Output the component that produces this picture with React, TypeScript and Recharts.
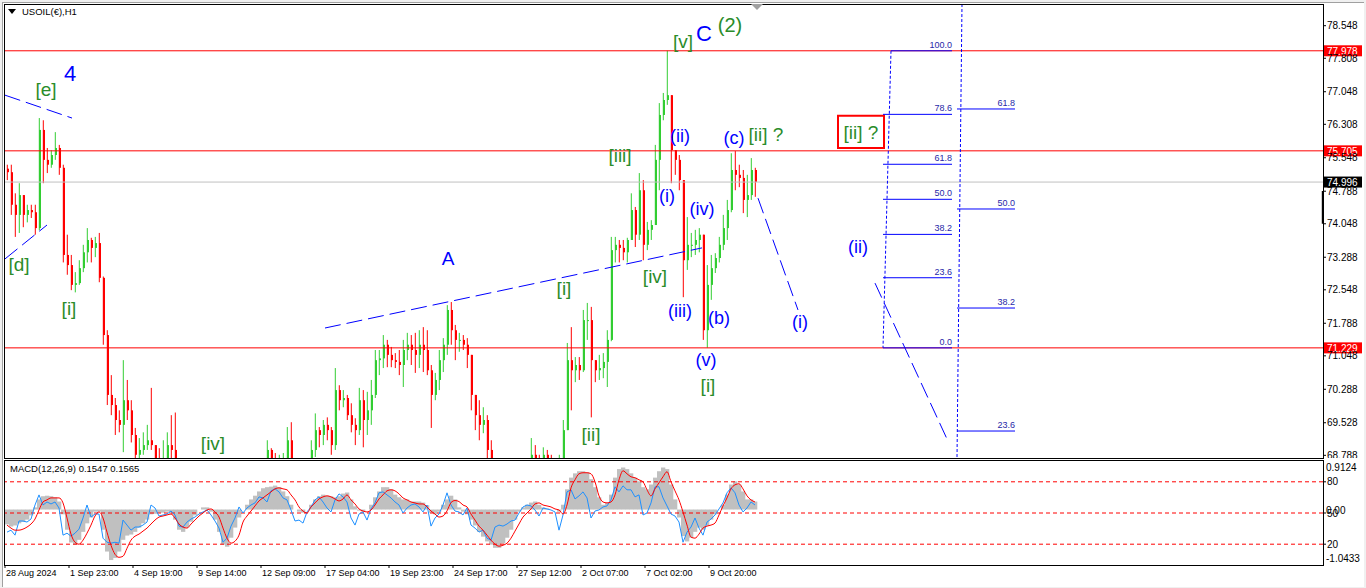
import React from 'react';
import { ComposedChart, Bar, Line, XAxis, YAxis, ReferenceLine, ReferenceDot, ReferenceArea } from 'recharts';

const FONT = '"Liberation Sans", Arial, sans-serif';

// ---------- price data (H1 bars, aggregated) ----------
const firstOpen = 75.3;
const highs = [
  75.39, 75.39, 74.74, 74.97, 74.70, 74.48, 74.48, 74.48, 76.45, 76.40,
  75.77, 75.72, 76.13, 75.84, 75.39, 73.80, 73.34, 72.95, 73.22, 73.57,
  73.95, 73.73, 73.75, 73.84, 72.85, 71.63, 70.61, 70.09, 69.81, 70.95,
  70.50, 70.04, 69.41, 69.18, 69.31, 69.48, 70.32, 69.02, 68.95, 69.13,
  69.31, 69.70, 69.76, 68.63, 68.45, 68.27, 68.40, 68.54, 68.63, 68.66,
  68.61, 68.50, 68.34, 68.22, 68.11, 68.00, 67.89, 67.82, 67.77, 67.89,
  68.04, 68.22, 68.40, 68.57, 68.72, 69.13, 68.95, 68.84, 68.80, 68.84,
  69.43, 69.54, 68.68, 68.63, 68.57, 68.63, 69.13, 69.74, 69.43, 69.59,
  69.65, 69.43, 70.77, 70.38, 70.27, 70.16, 69.97, 69.63, 70.32, 70.27,
  70.23, 70.50, 71.18, 71.18, 71.52, 71.41, 71.25, 71.11, 71.18, 71.41,
  71.57, 71.52, 71.57, 71.63, 71.70, 71.63, 70.84, 70.66, 71.18, 71.45,
  72.20, 72.27, 71.75, 71.57, 71.52, 71.45, 71.07, 70.16, 70.04, 69.88,
  69.70, 69.13, 68.57, 68.34, 68.22, 68.11, 68.22, 68.45, 68.57, 68.45,
  68.57, 69.18, 69.02, 68.80, 68.97, 68.91, 68.80, 68.68, 68.80, 69.59,
  71.34, 71.70, 71.02, 71.02, 72.09, 72.25, 72.16, 70.95, 71.07, 71.11,
  71.63, 73.75, 73.75, 73.68, 73.68, 73.73, 74.74, 74.43, 75.20, 75.04,
  74.09, 74.13, 75.84, 76.79, 77.02, 77.98, 76.97, 75.72, 75.61, 75.04,
  74.20, 73.84, 73.91, 73.95, 73.80, 73.11, 73.34, 73.38, 73.75, 74.25,
  74.59, 75.65, 75.70, 75.39, 75.27, 75.16, 75.54, 75.32,
];
const lows = [
  75.04, 74.25, 73.75, 73.84, 73.97, 74.08, 74.18, 73.80, 73.90, 74.97,
  75.20, 75.32, 75.50, 75.16, 73.17, 72.89, 72.54, 72.49, 72.66, 72.95,
  73.17, 73.17, 73.29, 72.72, 71.30, 69.93, 69.70, 69.25, 69.31, 68.86,
  69.59, 69.08, 68.63, 68.57, 68.80, 68.91, 68.91, 68.45, 68.34, 68.34,
  68.63, 68.57, 68.50, 68.00, 67.77, 67.66, 67.82, 68.00, 68.11, 68.17,
  68.04, 67.89, 67.77, 67.66, 67.54, 67.43, 67.31, 67.20, 67.13, 67.31,
  67.49, 67.66, 67.82, 68.00, 68.17, 68.45, 68.50, 68.45, 68.40, 68.50,
  68.57, 68.45, 68.11, 68.00, 67.89, 68.00, 68.34, 68.75, 68.97, 69.02,
  69.13, 68.80, 68.91, 69.81, 69.88, 69.59, 69.31, 69.02, 69.25, 68.97,
  69.25, 69.48, 70.09, 70.61, 70.77, 70.79, 70.79, 70.77, 70.61, 70.34,
  70.95, 70.84, 70.66, 70.77, 70.68, 70.61, 69.41, 70.04, 70.27, 70.68,
  71.07, 71.30, 70.95, 71.14, 71.18, 70.77, 69.81, 69.36, 69.13, 69.29,
  68.72, 68.22, 67.89, 67.66, 67.54, 67.43, 67.54, 67.77, 67.89, 67.77,
  67.89, 68.30, 68.45, 68.34, 68.45, 68.34, 68.27, 68.22, 68.27, 68.57,
  69.36, 69.81, 70.45, 70.50, 70.68, 71.41, 69.65, 70.45, 70.50, 70.54,
  70.34, 71.38, 73.17, 73.17, 73.22, 73.17, 73.68, 73.52, 73.68, 73.22,
  73.45, 73.68, 74.02, 74.81, 76.40, 76.75, 74.97, 75.16, 74.81, 72.38,
  73.00, 73.29, 73.34, 73.40, 71.41, 71.23, 72.32, 72.93, 73.17, 73.45,
  73.68, 74.31, 74.81, 74.88, 74.29, 74.20, 74.59, 74.66,
];
const closes = [
  75.22, 74.48, 74.25, 74.70, 74.25, 74.36, 74.31, 73.95, 76.18, 75.50,
  75.39, 75.61, 75.77, 75.32, 73.34, 73.11, 72.66, 72.70, 73.04, 73.40,
  73.68, 73.50, 73.61, 72.82, 71.52, 70.16, 69.93, 69.59, 69.48, 70.04,
  69.81, 69.25, 68.80, 68.91, 69.02, 69.13, 69.02, 68.63, 68.50, 68.68,
  69.02, 68.91, 68.57, 68.22, 68.00, 68.11, 68.27, 68.40, 68.50, 68.45,
  68.34, 68.11, 68.00, 67.89, 67.77, 67.66, 67.54, 67.43, 67.54, 67.66,
  67.89, 68.04, 68.22, 68.45, 68.57, 68.91, 68.68, 68.63, 68.68, 68.72,
  69.13, 68.63, 68.34, 68.22, 68.11, 68.45, 68.91, 69.36, 69.25, 69.48,
  69.36, 69.02, 70.27, 70.04, 70.09, 69.70, 69.48, 69.36, 70.04, 69.59,
  69.81, 70.16, 70.95, 70.99, 71.30, 71.07, 70.95, 70.91, 70.84, 71.18,
  71.30, 71.18, 71.07, 71.30, 71.18, 70.72, 70.16, 70.50, 70.95, 71.30,
  72.09, 71.63, 71.41, 71.41, 71.30, 71.07, 70.16, 69.70, 69.48, 69.59,
  68.91, 68.45, 68.11, 67.89, 67.77, 67.66, 67.89, 68.00, 68.22, 68.04,
  68.34, 68.80, 68.68, 68.57, 68.80, 68.57, 68.45, 68.45, 68.57, 69.36,
  70.95, 70.72, 70.84, 70.72, 71.86, 71.86, 70.95, 70.72, 70.77, 70.91,
  71.41, 73.45, 73.57, 73.50, 73.40, 73.68, 74.36, 73.80, 74.81, 73.57,
  73.91, 74.02, 75.50, 76.52, 76.86, 76.97, 75.72, 75.50, 75.04, 73.22,
  73.57, 73.57, 73.68, 73.80, 71.63, 72.66, 73.04, 73.27, 73.57, 73.95,
  74.36, 75.27, 75.16, 75.09, 74.59, 74.70, 75.27, 75.00,
];

// ---------- indicator data ----------
const macdHist = [
  -0.28, -0.32, -0.30, -0.26, -0.23, -0.19, -0.11, 0.04, 0.19, 0.25,
  0.26, 0.25, 0.23, 0.15, -0.09, -0.38, -0.62, -0.66, -0.57, -0.42,
  -0.26, -0.15, -0.04, -0.04, -0.38, -0.79, -0.95, -0.91, -0.79, -0.57,
  -0.49, -0.47, -0.42, -0.34, -0.26, -0.19, -0.09, -0.08, -0.06, -0.06,
  -0.04, -0.08, -0.19, -0.38, -0.42, -0.34, -0.23, -0.11, 0.0, 0.04,
  0.04, -0.04, -0.19, -0.42, -0.66, -0.70, -0.53, -0.34, -0.15, 0.0,
  0.09, 0.19, 0.26, 0.34, 0.40, 0.42, 0.43, 0.45, 0.42, 0.34,
  0.25, 0.09, 0.0, -0.04, -0.06, 0.0, 0.09, 0.19, 0.25, 0.28,
  0.26, 0.25, 0.23, 0.25, 0.30, 0.32, 0.19, 0.06, -0.02, -0.04,
  0.0, 0.09, 0.23, 0.34, 0.42, 0.42, 0.38, 0.28, 0.23, 0.19,
  0.19, 0.15, 0.15, 0.15, 0.13, 0.08, -0.06, -0.09, -0.04, 0.09,
  0.19, 0.26, 0.19, 0.04, -0.04, -0.09, -0.19, -0.30, -0.42, -0.51,
  -0.60, -0.66, -0.72, -0.72, -0.64, -0.53, -0.38, -0.19, -0.04, 0.04,
  0.09, 0.13, 0.15, 0.09, 0.04, 0.02, 0.0, 0.0, -0.04, 0.09,
  0.38, 0.60, 0.68, 0.72, 0.72, 0.70, 0.57, 0.42, 0.23, 0.09,
  0.13, 0.28, 0.60, 0.76, 0.79, 0.76, 0.68, 0.60, 0.53, 0.42,
  0.38, 0.47, 0.60, 0.72, 0.79, 0.76, 0.47, 0.19, -0.15, -0.50,
  -0.60, -0.53, -0.42, -0.34, -0.38, -0.30, -0.19, -0.09, 0.0, 0.09,
  0.28, 0.47, 0.53, 0.47, 0.34, 0.19, 0.19, 0.15,
];
const signalLine = [
  38.4, 35.5, 33.5, 33.5, 34.5, 36.5, 39.4, 44.2, 52.9, 60.6,
  62.6, 64.5, 64.5, 64.5, 59.7, 45.2, 29.7, 21.9, 20.0, 23.9,
  30.6, 38.4, 47.1, 51.0, 45.2, 31.6, 19.0, 10.3, 7.4, 8.4,
  16.1, 23.9, 27.7, 29.7, 32.6, 35.5, 39.4, 43.2, 46.1, 47.1,
  48.1, 49.0, 45.2, 39.4, 36.5, 35.5, 39.4, 43.2, 47.1, 50.0,
  52.9, 53.9, 51.0, 46.1, 35.5, 25.8, 21.0, 22.9, 28.7, 41.3,
  47.1, 51.9, 56.8, 61.6, 64.5, 67.4, 70.3, 73.2, 74.2, 73.2,
  72.3, 67.4, 62.6, 55.8, 51.9, 50.0, 55.8, 59.7, 63.5, 65.5,
  66.5, 65.5, 63.5, 61.6, 63.5, 67.4, 62.6, 58.7, 53.9, 51.9,
  51.0, 52.9, 57.7, 63.5, 67.4, 71.3, 72.3, 71.3, 68.4, 64.5,
  62.6, 60.6, 59.7, 58.7, 58.7, 55.8, 51.9, 49.0, 46.1, 47.1,
  52.0, 60.0, 62.0, 61.0, 57.7, 55.8, 49.0, 43.2, 37.4, 33.5,
  28.7, 23.9, 20.0, 18.1, 19.0, 21.0, 25.8, 32.6, 39.4, 46.1,
  50.0, 53.9, 58.7, 59.7, 57.7, 56.8, 55.8, 53.9, 52.9, 49.0,
  57.7, 74.2, 81.9, 87.7, 88.7, 88.7, 87.7, 80.0, 66.5, 60.6,
  59.7, 60.6, 67.4, 81.9, 90.6, 87.7, 84.8, 83.9, 81.9, 80.0,
  72.3, 66.5, 73.2, 79.0, 84.8, 89.7, 80.0, 71.3, 62.6, 51.0,
  38.4, 26.8, 25.8, 29.7, 35.5, 37.4, 38.4, 40.3, 48.1, 56.8,
  64.5, 73.2, 77.1, 78.1, 73.2, 66.5, 62.6, 60.6,
];
const fastLine = [
  31.6, 33.5, 28.7, 42.3, 42.3, 41.3, 44.2, 57.7, 67.4, 57.7,
  60.6, 58.7, 60.6, 54.8, 28.7, 30.6, 27.7, 30.6, 34.5, 45.2,
  57.7, 46.1, 49.0, 49.0, 25.8, 21.9, 21.0, 21.9, 21.0, 43.2,
  38.4, 33.5, 36.5, 36.5, 38.4, 41.3, 57.7, 54.8, 47.1, 48.1,
  49.0, 51.9, 48.1, 37.4, 36.5, 41.3, 44.2, 46.1, 49.0, 51.0,
  52.9, 48.1, 42.3, 35.5, 21.9, 25.8, 37.4, 45.2, 55.8, 50.0,
  54.8, 57.7, 59.7, 65.5, 64.5, 60.6, 71.3, 73.2, 70.3, 64.5,
  62.6, 52.9, 42.3, 43.2, 40.3, 51.0, 55.8, 62.6, 65.5, 60.6,
  54.8, 51.0, 62.6, 68.4, 65.5, 60.6, 45.2, 38.4, 49.0, 51.0,
  43.2, 53.9, 59.7, 69.4, 70.3, 67.4, 64.5, 60.6, 57.7, 50.0,
  54.8, 57.7, 58.7, 55.8, 51.0, 57.7, 37.4, 45.2, 49.0, 57.7,
  69.4, 57.7, 51.9, 51.0, 48.1, 54.8, 38.4, 35.5, 31.6, 33.5,
  25.8, 23.9, 36.5, 38.4, 37.4, 39.4, 42.3, 43.2, 50.0, 55.8,
  57.7, 56.8, 52.9, 47.1, 54.8, 53.9, 52.9, 51.0, 33.5, 48.1,
  70.3, 72.3, 63.5, 66.5, 70.3, 64.5, 45.2, 51.9, 52.9, 55.8,
  56.8, 62.6, 75.2, 70.3, 76.1, 72.3, 72.3, 65.5, 67.4, 48.1,
  50.0, 59.7, 75.2, 75.2, 64.5, 56.8, 49.0, 47.1, 41.3, 21.9,
  31.6, 36.5, 45.2, 35.5, 28.7, 41.3, 44.2, 48.1, 53.9, 59.7,
  69.4, 74.2, 69.4, 57.7, 51.0, 54.8, 60.6, 57.7,
];

// ---------- axis labels ----------
const timeLabels = ['28 Aug 2024', '1 Sep 23:00', '4 Sep 19:00', '9 Sep 14:00', '12 Sep 09:00', '17 Sep 04:00', '19 Sep 23:00', '24 Sep 17:00', '27 Sep 12:00', '2 Oct 07:00', '7 Oct 02:00', '9 Oct 20:00'];
const labelBars = [0, 16, 32, 48, 64, 80, 96, 112, 128, 144, 160, 176];
const priceTicks = [78.548, 77.808, 77.048, 76.308, 75.548, 74.788, 74.048, 73.288, 72.548, 71.788, 71.048, 70.288, 69.528, 68.788];
const redLevels = [77.978, 75.705, 71.229];
const bidPrice = 74.996;
const oscTicks = [20, 50, 80];
const macdScaleLabels = ['0.9124', '0.00', '-1.0433'];
const macdScaleValues = [0.9124, 0, -1.0433];

// ---------- drawings (in bar-index / price units) ----------
const dashedTrends = [
  { x1: -0.5, y1: 76.97, x2: 16.25, y2: 76.45 },
  { x1: -0.5, y1: 73.25, x2: 10, y2: 74.02 },
  { x1: 79.5, y1: 71.68, x2: 173.75, y2: 73.5 },
  { x1: 187.75, y1: 74.63, x2: 197.75, y2: 72.09 },
  { x1: 217, y1: 72.7, x2: 235.25, y2: 69.11 },
];
const dottedTrends = [
  { x1: 221, y1: 77.978, x2: 219, y2: 71.229 },
  { x1: 238.75, y1: 79.04, x2: 237.5, y2: 68.73 },
];
const fibLeftNames = ['100.0', '78.6', '61.8', '50.0', '38.2', '23.6', '0.0'];
const fibLeftPrices = [77.978, 76.534, 75.4, 74.604, 73.807, 72.822, 71.229];
const fibRightNames = ['61.8', '50.0', '38.2', '23.6'];
const fibRightPrices = [76.656, 74.384, 72.134, 69.34];

const GREEN = '#2a8c2a';
const BLUE = '#0000ff';
const waveLabels = [
  { t: '4', x: 15.75, y: 77.47, c: BLUE, s: 22 },
  { t: '[e]', x: 9.75, y: 77.09, c: GREEN, s: 19 },
  { t: '[d]', x: 3, y: 73.13, c: GREEN, s: 19 },
  { t: '[i]', x: 15.5, y: 72.13, c: GREEN, s: 19 },
  { t: '[iv]', x: 51.5, y: 69.05, c: GREEN, s: 19 },
  { t: 'A', x: 110.25, y: 73.27, c: BLUE, s: 19 },
  { t: '[i]', x: 139.25, y: 72.57, c: GREEN, s: 19 },
  { t: '[ii]', x: 146, y: 69.27, c: GREEN, s: 19 },
  { t: '[iii]', x: 153.25, y: 75.61, c: GREEN, s: 19 },
  { t: '[iv]', x: 162, y: 72.84, c: GREEN, s: 19 },
  { t: '[v]', x: 169, y: 78.2, c: GREEN, s: 19 },
  { t: 'C', x: 174.25, y: 78.38, c: BLUE, s: 22 },
  { t: '(2)', x: 180.75, y: 78.56, c: GREEN, s: 20 },
  { t: '(ii)', x: 168.25, y: 76.04, c: BLUE, s: 18 },
  { t: '(i)', x: 165, y: 74.68, c: BLUE, s: 18 },
  { t: '(iv)', x: 173.75, y: 74.38, c: BLUE, s: 18 },
  { t: '(iii)', x: 168.25, y: 72.07, c: BLUE, s: 18 },
  { t: '(b)', x: 178, y: 71.91, c: BLUE, s: 18 },
  { t: '(v)', x: 174.75, y: 70.95, c: BLUE, s: 18 },
  { t: '[i]', x: 175.25, y: 70.38, c: GREEN, s: 19 },
  { t: '(c)', x: 181.75, y: 76.0, c: BLUE, s: 18 },
  { t: '[ii] ?', x: 189.75, y: 76.07, c: GREEN, s: 19 },
  { t: '(i)', x: 198.25, y: 71.82, c: BLUE, s: 18 },
  { t: '(ii)', x: 212.75, y: 73.52, c: BLUE, s: 18 },
  { t: '[ii] ?', x: 213.5, y: 76.13, c: GREEN, s: 19 },
];

const X_DOMAIN: [number, number] = [-0.5, 329];
const PRICE_DOMAIN: [number, number] = [68.727, 79.041];
const MACD_DOMAIN: [number, number] = [-1.0433, 0.9124];

const priceRows = highs.map((h, i) => {
  const open = i === 0 ? firstOpen : closes[i - 1];
  return { i, open, high: h, low: lows[i], close: closes[i], range: [Math.min(lows[i], open), Math.max(h, open)] };
});
const macdRows = macdHist.map((m, i) => ({ i, hist: m, red: signalLine[i], blue: fastLine[i] }));
const tickValues = labelBars.map((b) => b - 0.5);

const Candle = (props: any) => {
  const { x, y, width, height, payload } = props;
  if (!payload || x == null || y == null) return null;
  const { open, close, range } = payload;
  const [lo, hi] = range;
  const top = height >= 0 ? y : y + height;
  const h = Math.abs(height);
  const span = hi - lo;
  const yOf = (v: number) => (span === 0 ? top : top + ((hi - v) / span) * h);
  const color = close >= open ? '#32cd32' : '#ff0000';
  const cx = x + width / 2 + 0.5;
  const b1 = Math.min(yOf(open), yOf(close));
  const b2 = Math.max(yOf(open), yOf(close));
  return (
    <g>
      <line x1={cx} x2={cx} y1={top} y2={top + h} stroke={color} strokeWidth={1} />
      <rect x={x + 2} y={b1} width={2} height={Math.max(b2 - b1, 1)} fill={color} />
    </g>
  );
};

const HistBar = (props: any) => {
  const { x, y, height } = props;
  if (x == null || y == null || height == null) return null;
  const top = height >= 0 ? y : y + height;
  return <rect x={x} y={top} width={4.3} height={Math.abs(height)} fill="#c0c0c0" />;
};

const axisTag = (text: string, bg: string) => (p: any) => {
  const vb = p.viewBox;
  const x = vb.x + vb.width + 1;
  return (
    <g>
      <rect x={x} y={vb.y - 5.5} width={38} height={11} fill={bg} />
      <text x={x + 3} y={vb.y + 0.5} dominantBaseline="central" fill="#ffffff" fontSize={10} fontFamily={FONT}>{text}</text>
    </g>
  );
};

const textAt = (text: string, color: string, size: number) => (p: any) => {
  const vb = p.viewBox;
  return (
    <text x={vb.x + vb.width / 2} y={vb.y + vb.height / 2} textAnchor="middle" dominantBaseline="central" fill={color} fontSize={size} fontFamily={FONT}>{text}</text>
  );
};

const fibText = (text: string) => (p: any) => {
  const vb = p.viewBox;
  return (
    <text x={vb.x} y={vb.y - 3} textAnchor="end" fill="#2828a8" fontSize={9} fontFamily={FONT}>{text}</text>
  );
};

const macdScaleText = (text: string, dy: number) => (p: any) => {
  const vb = p.viewBox;
  return (
    <text x={vb.x + vb.width + 3} y={vb.y + dy} dominantBaseline="central" fill="#000" fontSize={10} fontFamily={FONT}>{text}</text>
  );
};

const TimeTick = (props: any) => {
  const { x, y, payload } = props;
  const k = tickValues.indexOf(payload.value);
  return (
    <text x={x + 1} y={y + 3} textAnchor="start" dominantBaseline="central" fill="#000" fontSize={9} fontFamily={FONT}>{timeLabels[k]}</text>
  );
};

export default function App() {
  return (
    <div style={{ position: 'absolute', left: 0, top: 0, width: 1366, height: 588, background: '#f0f0f0', overflow: 'hidden', fontFamily: FONT }}>
      <div style={{ position: 'absolute', left: 2, top: 2, width: 1361, height: 584, background: '#ffffff', borderLeft: '1px solid #a0a0a0', borderTop: '1px solid #a0a0a0' }} />
      {/* price chart */}
      <div style={{ position: 'absolute', left: 4, top: 4 }}>
        <ComposedChart width={1359} height={454} data={priceRows} margin={{ top: 0, right: 0, bottom: 0, left: 1 }}>
          <XAxis dataKey="i" type="number" domain={X_DOMAIN} allowDataOverflow hide />
          <YAxis orientation="right" width={40} type="number" domain={PRICE_DOMAIN} allowDataOverflow ticks={priceTicks} interval={0}
            axisLine={false} tickLine={{ stroke: '#000' }} tickSize={3} tickMargin={1}
            tick={{ fontSize: 10, fill: '#000', fontFamily: FONT }} tickFormatter={(v: number) => v.toFixed(3)} />
          <Bar dataKey="range" barSize={4} shape={(p: any) => <Candle {...p} />} isAnimationActive={false} />
          <ReferenceLine y={bidPrice} stroke="#c0c0c0" strokeWidth={1} label={axisTag(bidPrice.toFixed(3), '#000000')} />
          {redLevels.map((v) => (
            <ReferenceLine key={v} y={v} stroke="#ff0000" strokeWidth={1} label={axisTag(v.toFixed(3), '#ff0000')} />
          ))}
          <ReferenceArea x1={328.7} x2={329} y1={74.05} y2={74.79} fill="#000" fillOpacity={1} stroke="none" />
          {dashedTrends.map((l, k) => (
            <ReferenceLine key={'d' + k} segment={[{ x: l.x1, y: l.y1 }, { x: l.x2, y: l.y2 }]} stroke={BLUE} strokeWidth={1} strokeDasharray="16 6" ifOverflow="hidden" />
          ))}
          {dottedTrends.map((l, k) => (
            <ReferenceLine key={'t' + k} segment={[{ x: l.x1, y: l.y1 }, { x: l.x2, y: l.y2 }]} stroke={BLUE} strokeWidth={1} strokeDasharray="3 2" ifOverflow="hidden" />
          ))}
          {fibLeftPrices.map((v, k) => (
            <ReferenceLine key={'fl' + k} segment={[{ x: k === 0 ? 221 : 219, y: v }, { x: 236.25, y: v }]} stroke={BLUE} strokeWidth={1} />
          ))}
          {fibLeftPrices.map((v, k) => (
            <ReferenceDot key={'flt' + k} x={236.25} y={v} r={0} fill="none" stroke="none" label={fibText(fibLeftNames[k])} />
          ))}
          {fibRightPrices.map((v, k) => (
            <ReferenceLine key={'fr' + k} segment={[{ x: 237.5, y: v }, { x: 252, y: v }]} stroke={BLUE} strokeWidth={1} />
          ))}
          {fibRightPrices.map((v, k) => (
            <ReferenceDot key={'frt' + k} x={252} y={v} r={0} fill="none" stroke="none" label={fibText(fibRightNames[k])} />
          ))}
          <ReferenceArea x1={207.75} x2={219.25} y1={75.77} y2={76.5} fill="#ffffff" fillOpacity={0} stroke="#ff0000" strokeWidth={2} />
          {waveLabels.map((w, k) => (
            <ReferenceDot key={'w' + k} x={w.x} y={w.y} r={0} fill="none" stroke="none" label={textAt(w.t, w.c, w.s)} />
          ))}
        </ComposedChart>
      </div>
      {/* macd chart */}
      <div style={{ position: 'absolute', left: 4, top: 461 }}>
        <ComposedChart width={1359} height={127} data={macdRows} margin={{ top: 0, right: 0, bottom: 0, left: 1 }}>
          <XAxis dataKey="i" type="number" domain={X_DOMAIN} allowDataOverflow ticks={tickValues} interval={0} height={23}
            axisLine={false} tickLine={{ stroke: '#000' }} tickSize={3} tick={<TimeTick />} />
          <YAxis yAxisId="macd" hide type="number" domain={MACD_DOMAIN} allowDataOverflow />
          <YAxis yAxisId="osc" orientation="right" width={40} type="number" domain={[0, 100]} ticks={oscTicks} interval={0}
            axisLine={false} tickLine={{ stroke: '#000' }} tickSize={3} tickMargin={1}
            tick={{ fontSize: 10, fill: '#000', fontFamily: FONT }} />
          <Bar yAxisId="macd" dataKey="hist" barSize={4} shape={(p: any) => <HistBar {...p} />} isAnimationActive={false} />
          {oscTicks.map((v) => (
            <ReferenceLine key={v} yAxisId="osc" y={v} stroke="#ff0000" strokeDasharray="4 3" />
          ))}
          {macdScaleValues.map((v, k) => (
            <ReferenceLine key={'m' + k} yAxisId="macd" y={v} stroke="none" label={macdScaleText(macdScaleLabels[k], k === 0 ? 6.5 : k === 1 ? 0.5 : -7)} />
          ))}
          <Line yAxisId="osc" dataKey="blue" type="linear" stroke="#1e90ff" strokeWidth={1} dot={false} isAnimationActive={false} />
          <Line yAxisId="osc" dataKey="red" type="monotone" stroke="#ff0000" strokeWidth={1} dot={false} isAnimationActive={false} />
        </ComposedChart>
      </div>
      {/* panel frames */}
      <div style={{ position: 'absolute', left: 4, top: 4, width: 1320, height: 455, border: '1px solid #000', boxSizing: 'border-box', pointerEvents: 'none' }} />
      <div style={{ position: 'absolute', left: 4, top: 460, width: 1320, height: 106, border: '1px solid #000', boxSizing: 'border-box', pointerEvents: 'none' }} />
      <svg style={{ position: 'absolute', left: 750, top: 4 }} width={14} height={7}>
        <polygon points="1,0 13,0 7,6" fill="#a0a0a0" />
      </svg>
      <div style={{ position: 'absolute', left: 8, top: 6, fontSize: 9.5, color: '#000', display: 'flex', alignItems: 'center', lineHeight: '12px' }}>
        <svg width={9} height={6} style={{ marginRight: 5 }}><polygon points="0,0 8,0 4,5" fill="#000" /></svg>
        <span>USOIL(€),H1</span>
      </div>
      <div style={{ position: 'absolute', left: 10, top: 463, fontSize: 9.5, color: '#000', lineHeight: '12px' }}>MACD(12,26,9) 0.1547 0.1565</div>
    </div>
  );
}
